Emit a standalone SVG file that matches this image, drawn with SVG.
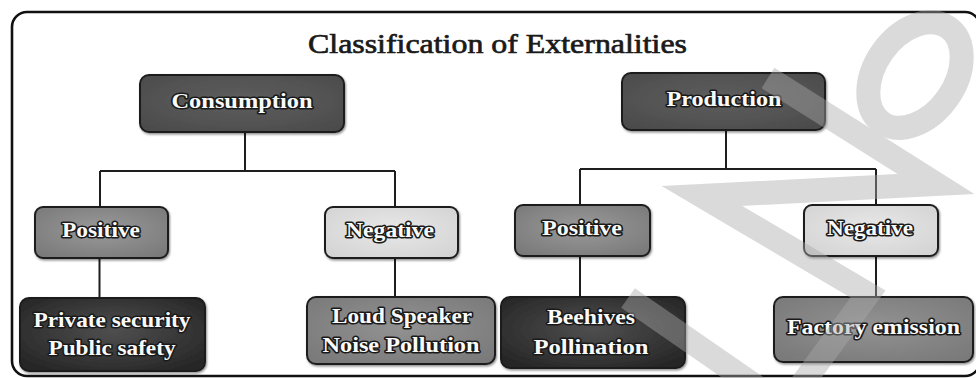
<svg xmlns="http://www.w3.org/2000/svg" width="976" height="378" viewBox="0 0 976 378">
  <defs>
    <radialGradient id="gHead" cx="50%" cy="45%" r="65%">
      <stop offset="0" stop-color="#5e5e5e"/>
      <stop offset="1" stop-color="#4c4c4c"/>
    </radialGradient>
    <radialGradient id="gPos" cx="50%" cy="45%" r="65%">
      <stop offset="0" stop-color="#9a9a9a"/>
      <stop offset="1" stop-color="#7a7a7a"/>
    </radialGradient>
    <radialGradient id="gNeg" cx="50%" cy="45%" r="65%">
      <stop offset="0" stop-color="#e8e8e8"/>
      <stop offset="1" stop-color="#d4d4d4"/>
    </radialGradient>
    <radialGradient id="gDark" cx="50%" cy="45%" r="65%">
      <stop offset="0" stop-color="#4f4f4f"/>
      <stop offset="1" stop-color="#262626"/>
    </radialGradient>
    <radialGradient id="gMid" cx="50%" cy="45%" r="65%">
      <stop offset="0" stop-color="#929292"/>
      <stop offset="1" stop-color="#7a7a7a"/>
    </radialGradient>
    <filter id="soft" x="-10%" y="-10%" width="125%" height="130%">
      <feDropShadow dx="1" dy="1.5" stdDeviation="1.2" flood-color="#000" flood-opacity="0.45"/>
    </filter>
  </defs>
  <style>
    .frame { fill: #fff; stroke: #111; stroke-width: 2.6; }
    .title { font-family: "Liberation Serif", serif; font-size: 28px; fill: #1a1a1a; stroke: #1a1a1a; stroke-width: 0.7; text-anchor: middle; }
    .box { stroke: #1e1e1e; stroke-width: 2; filter: url(#soft); }
    .lbl { font-family: "Liberation Serif", serif; font-weight: bold; font-size: 21px; fill: #fafafa;
           stroke: #1a1a1a; stroke-width: 3; stroke-linejoin: round; paint-order: stroke; text-anchor: middle; }
    .conn { fill: none; stroke: #1e1e1e; stroke-width: 2; }
    .mark { fill: none; stroke: #aaaaaa; stroke-width: 24; stroke-linejoin: miter; stroke-miterlimit: 4; }
  </style>

  <!-- outer frame -->
  <rect class="frame" x="12" y="12" width="968" height="364" rx="15"/>

  <text class="title" x="497.5" y="53" textLength="379" lengthAdjust="spacingAndGlyphs">Classification of Externalities</text>

  <!-- tree connectors -->
  <g id="connectors" class="conn">
    <path d="M245 132 V171 M100 171 H395 M100 171 V207 M395 171 V207"/>
    <path d="M99.5 258 V298 M395 258 V297"/>
    <path d="M726 130 V169 M580 169 H876 M580 169 V205 M876 169 V205"/>
    <path d="M580 256 V297 M876 256 V297"/>
  </g>

  <g id="consumption">
    <rect class="box" x="140" y="75" width="204" height="57" rx="9" fill="url(#gHead)"/>
    <text class="lbl" x="242" y="108" textLength="141" lengthAdjust="spacingAndGlyphs">Consumption</text>
  </g>
  <g id="production">
    <rect class="box" x="622" y="73" width="203" height="57" rx="9" fill="url(#gHead)"/>
    <text class="lbl" x="724" y="106" textLength="115" lengthAdjust="spacingAndGlyphs">Production</text>
  </g>

  <g id="consumption-positive">
    <rect class="box" x="35" y="207" width="133" height="51" rx="8" fill="url(#gPos)"/>
    <text class="lbl" x="101" y="237" textLength="78" lengthAdjust="spacingAndGlyphs">Positive</text>
  </g>
  <g id="consumption-negative">
    <rect class="box" x="325" y="207" width="133" height="51" rx="8" fill="url(#gNeg)"/>
    <text class="lbl" x="390" y="237" textLength="88" lengthAdjust="spacingAndGlyphs">Negative</text>
  </g>
  <g id="production-positive">
    <rect class="box" x="515" y="205" width="135" height="51" rx="8" fill="url(#gPos)"/>
    <text class="lbl" x="582" y="235" textLength="80" lengthAdjust="spacingAndGlyphs">Positive</text>
  </g>
  <g id="production-negative">
    <rect class="box" x="804" y="205" width="134" height="51" rx="8" fill="url(#gNeg)"/>
    <text class="lbl" x="870" y="235" textLength="86" lengthAdjust="spacingAndGlyphs">Negative</text>
  </g>

  <g id="private-security">
    <rect class="box" x="20" y="298" width="185" height="73" rx="9" fill="url(#gDark)"/>
    <text class="lbl" x="112" y="327" textLength="157" lengthAdjust="spacingAndGlyphs">Private security</text>
    <text class="lbl" x="112" y="355" textLength="127" lengthAdjust="spacingAndGlyphs">Public safety</text>
  </g>
  <g id="loud-speaker">
    <rect class="box" x="307" y="297" width="188" height="67" rx="9" fill="url(#gMid)"/>
    <text class="lbl" x="402" y="323" textLength="140" lengthAdjust="spacingAndGlyphs">Loud Speaker</text>
    <text class="lbl" x="401" y="352" textLength="157" lengthAdjust="spacingAndGlyphs">Noise Pollution</text>
  </g>
  <g id="beehives">
    <rect class="box" x="501" y="297" width="184" height="71" rx="9" fill="url(#gDark)"/>
    <text class="lbl" x="591" y="324" textLength="88" lengthAdjust="spacingAndGlyphs">Beehives</text>
    <text class="lbl" x="591" y="354" textLength="115" lengthAdjust="spacingAndGlyphs">Pollination</text>
  </g>
  <g id="factory-emission">
    <rect class="box" x="774" y="297" width="199" height="65" rx="9" fill="url(#gMid)"/>
    <text class="lbl" x="873.5" y="334" textLength="173" lengthAdjust="spacingAndGlyphs">Factory emission</text>
  </g>

  <!-- translucent watermark strokes -->
  <g id="watermark" opacity="0.43">
    <ellipse class="mark" cx="915" cy="75" rx="58" ry="40" stroke-width="20" transform="rotate(-55 915 75)"/>
    <polyline class="mark" points="768,78 936,184 702,196 868,294 802,384"/>
    <path class="mark" d="M628 298 L758 388"/>
  </g>
</svg>
